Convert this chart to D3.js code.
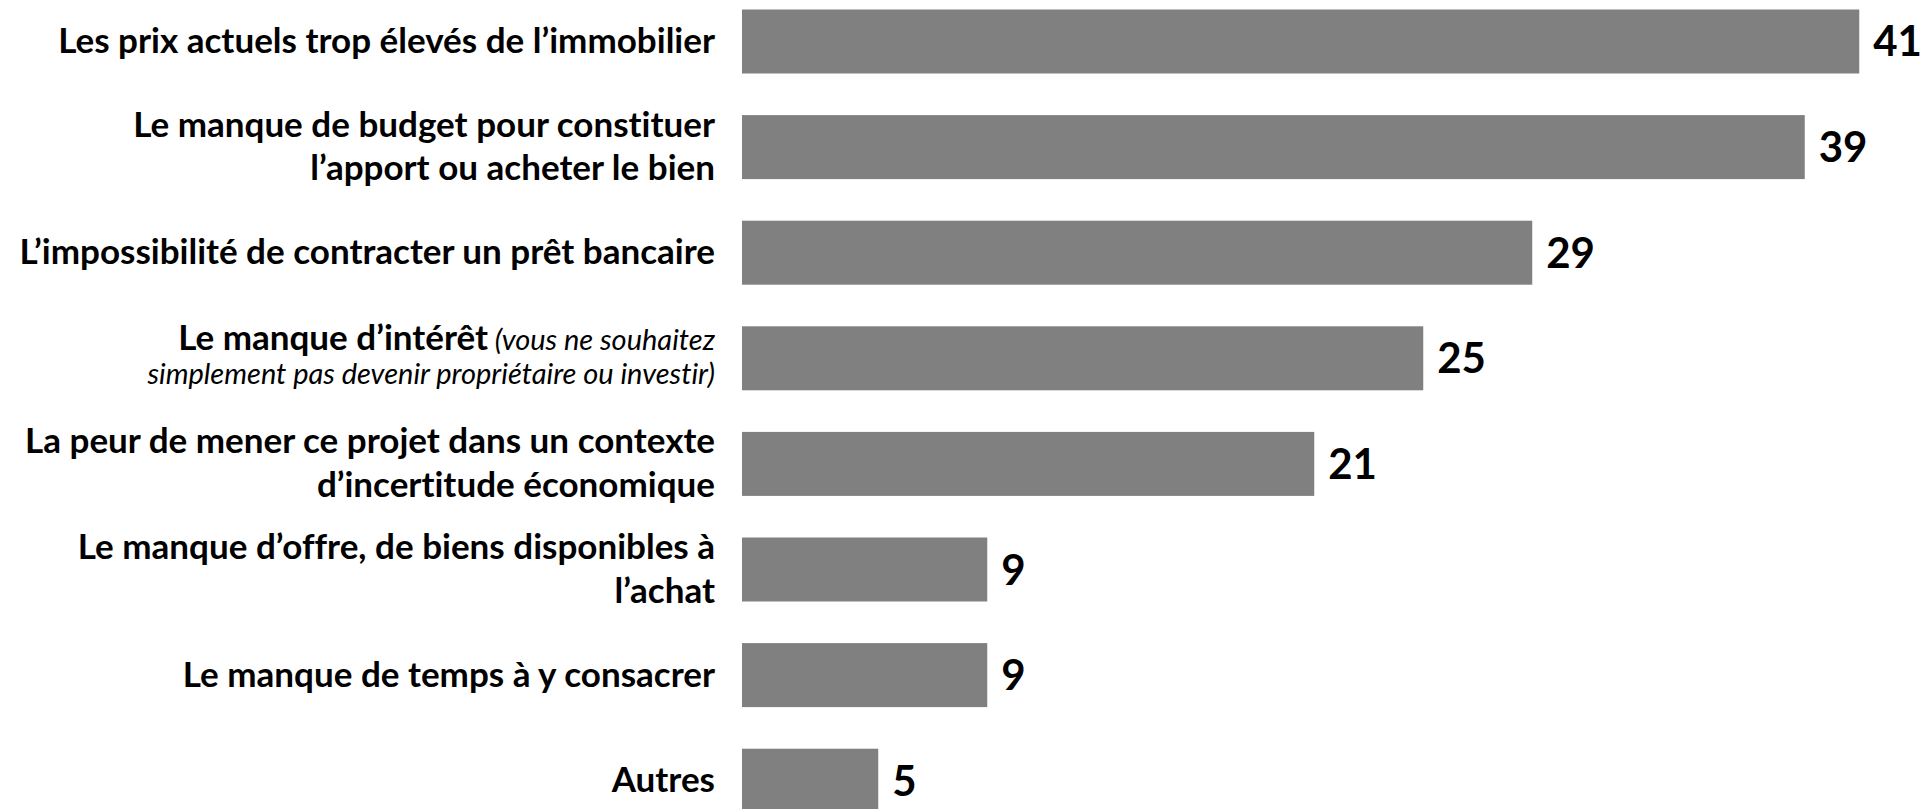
<!DOCTYPE html>
<html>
<head>
<meta charset="utf-8">
<script src="https://cdn.jsdelivr.net/npm/d3@7"></script>
<style>
  html, body { margin: 0; padding: 0; background: #ffffff; }
  svg { display: block; }
  text { font-family: Lato, "Open Sans", sans-serif; fill: #000000; font-variant-ligatures: none; font-feature-settings: "liga" 0; }
</style>
</head>
<body>
<svg id="chart" width="1924" height="809"></svg>
<script>
// ---- data ----
const categories = [
  "Les prix actuels trop élevés de l’immobilier",
  "Le manque de budget pour constituer l’apport ou acheter le bien",
  "L’impossibilité de contracter un prêt bancaire",
  "Le manque d’intérêt (vous ne souhaitez simplement pas devenir propriétaire ou investir)",
  "La peur de mener ce projet dans un contexte d’incertitude économique",
  "Le manque d’offre, de biens disponibles à l’achat",
  "Le manque de temps à y consacrer",
  "Autres"
];
// each line is a list of [text, style] segments; style "b" = bold, "i" = italic note
const labelLines = [
  [[["Les prix actuels trop élevés de l’immobilier", "b"]]],
  [[["Le manque de budget pour constituer", "b"]], [["l’apport ou acheter le bien", "b"]]],
  [[["L’impossibilité de contracter un prêt bancaire", "b"]]],
  [[["Le manque d’intérêt", "b"], [" (vous ne souhaitez", "i"]], [["simplement pas devenir propriétaire ou investir)", "i"]]],
  [[["La peur de mener ce projet dans un contexte", "b"]], [["d’incertitude économique", "b"]]],
  [[["Le manque d’offre, de biens disponibles à", "b"]], [["l’achat", "b"]]],
  [[["Le manque de temps à y consacrer", "b"]]],
  [[["Autres", "b"]]]
];
const values = [41, 39, 29, 25, 21, 9, 9, 5];
const xMax = 41;

// ---- layout ----
const svg = d3.select("#chart");
const barLeft = 742, pxPerUnit = 27.25;
const labelRight = 715;

const x = d3.scaleLinear().domain([0, xMax]).range([barLeft, barLeft + xMax * pxPerUnit]);
const y = d3.scaleBand().domain(categories).range([9.5, 812.7]).paddingInner(0.394).paddingOuter(0);

// fit font sizes so text widths match the reference
function measure(txt, weight, style, size) {
  const p = svg.append("text").attr("font-weight", weight).attr("font-style", style)
    .attr("font-size", size).text(txt);
  const w = p.node().getComputedTextLength();
  p.remove();
  return w;
}
const boldSize = 36 * 657 / measure(labelLines[0][0][0][0], 700, "normal", 36);
const italSize = 24 * 568 / measure(labelLines[3][1][0][0], 400, "italic", 24);

// bars
svg.append("g").selectAll("rect")
  .data(values)
  .join("rect")
  .attr("x", x(0))
  .attr("y", (d, i) => y(categories[i]))
  .attr("width", d => x(d) - x(0))
  .attr("height", y.bandwidth())
  .attr("fill", "#808080");

// value labels
svg.append("g").selectAll("text")
  .data(values)
  .join("text")
  .attr("x", d => x(d) + 14)
  .attr("y", (d, i) => y(categories[i]) + y.bandwidth() / 2 + 15)
  .attr("font-weight", 700)
  .attr("font-size", 42)
  .text(d => d);

// category labels
const lg = svg.append("g");
labelLines.forEach((lines, i) => {
  const c = y(categories[i]) + y.bandwidth() / 2;
  let baselines;
  if (lines.length === 1) baselines = [c + 11.5];
  else if (lines[1][0][1] === "i") baselines = [c - 8, c + 26];
  else baselines = [c - 10.5, c + 33];
  lines.forEach((segs, j) => {
    const t = lg.append("text")
      .attr("x", labelRight)
      .attr("y", baselines[j])
      .attr("text-anchor", "end");
    segs.forEach(([txt, st]) => {
      t.append("tspan")
        .attr("font-weight", st === "b" ? 700 : 400)
        .attr("font-style", st === "i" ? "italic" : "normal")
        .attr("font-size", st === "b" ? boldSize : italSize)
        .text(txt);
    });
  });
});
</script>
</body>
</html>
